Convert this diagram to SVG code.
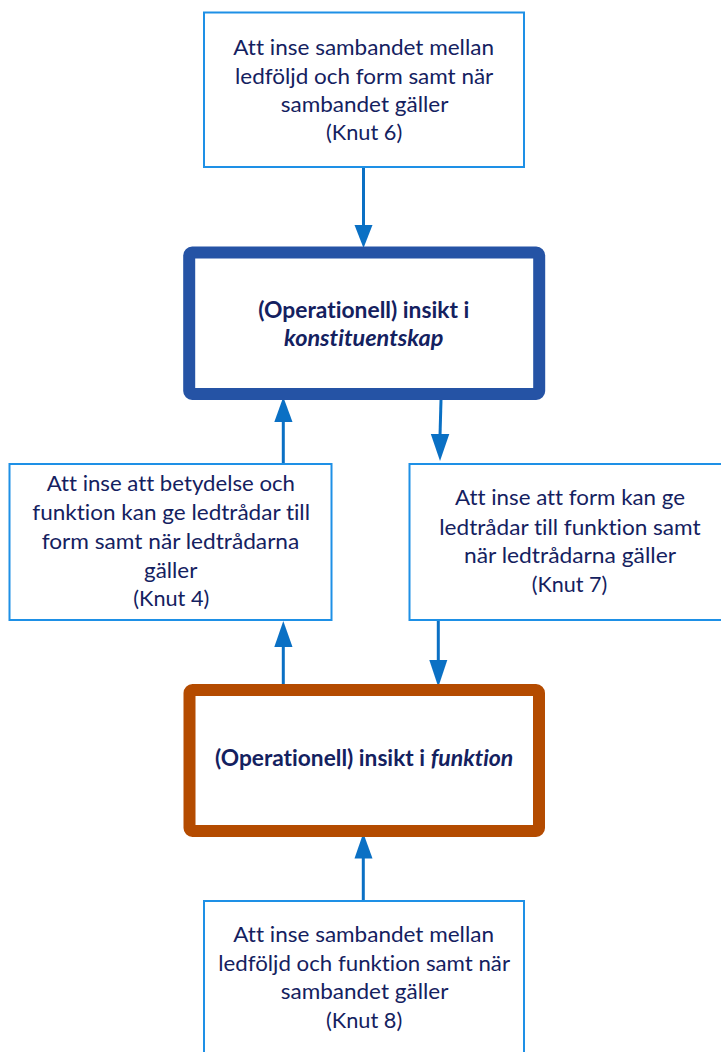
<svg xmlns="http://www.w3.org/2000/svg" width="721" height="1052" viewBox="0 0 721 1052">
  <style>
    .txt { font-family: Lato, "Open Sans", "Liberation Sans", sans-serif; font-size: 22px; fill: #14215f; font-variant-ligatures: none; }
    .bold { font-weight: bold; }
    .ital { font-style: italic; }
    .thin { fill: #ffffff; stroke: #1e90e6; stroke-width: 2; }
    .blue { fill: #ffffff; stroke: #2553a5; stroke-width: 12; }
    .orange { fill: #ffffff; stroke: #b44b00; stroke-width: 12; }
    .conn { stroke: #0a70c4; stroke-width: 3; fill: none; }
    .head { fill: #0a70c4; }
  </style>

  <rect width="721" height="1052" fill="#ffffff"/>

  <!-- connectors -->
  <g id="connectors">
    <line class="conn" x1="363.5" y1="167" x2="363.5" y2="228"/>
    <polygon class="head" points="354.5,225 372.5,225 363.5,248"/>

    <line class="conn" x1="283.3" y1="464" x2="283.3" y2="420"/>
    <polygon class="head" points="274.3,422 292.5,422 283.3,397"/>

    <line class="conn" x1="441" y1="400" x2="440" y2="436"/>
    <polygon class="head" points="430.8,434 449.3,434 440,461"/>

    <line class="conn" x1="283.3" y1="690" x2="283.3" y2="645"/>
    <polygon class="head" points="274.3,647 292.5,647 283.3,621"/>

    <line class="conn" x1="438.3" y1="620" x2="438.3" y2="662"/>
    <polygon class="head" points="429.3,660 447.3,660 438.3,687"/>

    <line class="conn" x1="363.3" y1="901" x2="363.3" y2="856"/>
    <polygon class="head" points="354.5,858.5 372.5,858.5 363.3,833"/>
  </g>

  <!-- Knut 6 -->
  <g id="knut6">
    <rect class="thin" x="204" y="12.5" width="320" height="154.5"/>
    <text class="txt" x="233.3" y="55" textLength="260.7" lengthAdjust="spacingAndGlyphs">Att inse sambandet mellan</text>
    <text class="txt" x="235" y="83.5" textLength="258.3" lengthAdjust="spacingAndGlyphs">ledföljd och form samt när</text>
    <text class="txt" x="280.7" y="111.5" textLength="167.7" lengthAdjust="spacingAndGlyphs">sambandet gäller</text>
    <text class="txt" x="326" y="139.5" textLength="76.3" lengthAdjust="spacingAndGlyphs">(Knut 6)</text>
  </g>

  <!-- konstituentskap -->
  <g id="konstituentskap">
    <rect class="blue" x="189.2" y="252.5" width="350" height="141.5" rx="3"/>
    <text class="txt bold" x="258.3" y="317.5" textLength="211" lengthAdjust="spacingAndGlyphs">(Operationell) insikt i</text>
    <text class="txt bold ital" x="284" y="346" textLength="159.3" lengthAdjust="spacingAndGlyphs">konstituentskap</text>
  </g>

  <!-- Knut 4 -->
  <g id="knut4">
    <rect class="thin" x="9.5" y="464" width="322" height="156"/>
    <text class="txt" x="46.7" y="490.7" textLength="248.3" lengthAdjust="spacingAndGlyphs">Att inse att betydelse och</text>
    <text class="txt" x="32.3" y="520" textLength="277.7" lengthAdjust="spacingAndGlyphs">funktion kan ge ledtrådar till</text>
    <text class="txt" x="41.7" y="549" textLength="257.6" lengthAdjust="spacingAndGlyphs">form samt när ledtrådarna</text>
    <text class="txt" x="144" y="577.7" textLength="53.3" lengthAdjust="spacingAndGlyphs">gäller</text>
    <text class="txt" x="133.3" y="606" textLength="76" lengthAdjust="spacingAndGlyphs">(Knut 4)</text>
  </g>

  <!-- Knut 7 -->
  <g id="knut7">
    <rect class="thin" x="409.5" y="464" width="322" height="156"/>
    <text class="txt" x="455" y="505" textLength="230" lengthAdjust="spacingAndGlyphs">Att inse att form kan ge</text>
    <text class="txt" x="439.3" y="534.5" textLength="261.3" lengthAdjust="spacingAndGlyphs">ledtrådar till funktion samt</text>
    <text class="txt" x="464" y="563.3" textLength="212" lengthAdjust="spacingAndGlyphs">när ledtrådarna gäller</text>
    <text class="txt" x="531.7" y="591.7" textLength="75.6" lengthAdjust="spacingAndGlyphs">(Knut 7)</text>
  </g>

  <!-- funktion -->
  <g id="funktion">
    <rect class="orange" x="189.5" y="690" width="349.5" height="141" rx="3"/>
    <text class="txt bold" x="215" y="766" textLength="210" lengthAdjust="spacingAndGlyphs">(Operationell) insikt i</text>
    <text class="txt bold ital" x="430.7" y="766" textLength="82.6" lengthAdjust="spacingAndGlyphs">funktion</text>
  </g>

  <!-- Knut 8 -->
  <g id="knut8">
    <rect class="thin" x="204" y="901" width="320" height="170"/>
    <text class="txt" x="233.3" y="941.7" textLength="260.7" lengthAdjust="spacingAndGlyphs">Att inse sambandet mellan</text>
    <text class="txt" x="218.3" y="970.5" textLength="291.7" lengthAdjust="spacingAndGlyphs">ledföljd och funktion samt när</text>
    <text class="txt" x="280.7" y="999.3" textLength="167.7" lengthAdjust="spacingAndGlyphs">sambandet gäller</text>
    <text class="txt" x="326" y="1028" textLength="76.3" lengthAdjust="spacingAndGlyphs">(Knut 8)</text>
  </g>
</svg>
